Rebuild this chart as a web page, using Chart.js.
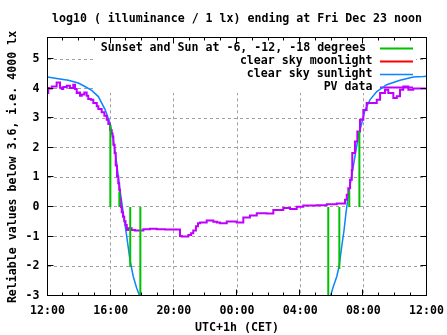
<!DOCTYPE html>
<html>
<head>
<meta charset="utf-8">
<script src="https://cdn.jsdelivr.net/npm/chart.js@4.4.0/dist/chart.umd.min.js"></script>
<style>
  html, body { margin: 0; padding: 0; background: #fff; }
</style>
</head>
<body>
<canvas id="luxChart" width="447" height="335"></canvas>
<script>
// axis labels
const hourLabels = ["12:00", "16:00", "20:00", "00:00", "04:00", "08:00", "12:00"];
const yTicks = [-3, -2, -1, 0, 1, 2, 3, 4, 5];

// PV data: hours after 12:00, log10(lux)
const pvHours = [0.00, 0.05, 0.10, 0.27, 0.58, 0.79, 0.90, 1.00, 1.22, 1.42, 1.63, 1.74, 1.85, 1.95, 2.06, 2.17, 2.33, 2.48, 2.58, 2.75,
  2.90, 3.12, 3.22, 3.43, 3.60, 3.75, 3.85, 3.96, 4.06, 4.12, 4.17, 4.25, 4.32, 4.40, 4.48, 4.54, 4.59, 4.65, 4.70, 4.78, 4.86, 4.94, 5.02, 5.12, 5.33, 5.54,
  5.75, 6.07, 6.28, 6.49, 6.92, 7.44, 7.88, 8.39, 8.50, 8.92, 9.09, 9.23, 9.40, 9.53, 9.66, 10.08, 10.50, 10.73, 10.92, 11.35,
  11.56, 11.98, 12.40, 12.82, 13.25, 13.88, 14.30, 14.93, 15.36, 15.78, 16.20, 17.05, 17.68, 18.32, 18.84, 18.95, 19.05, 19.16, 19.27, 19.30,
  19.47, 19.62, 19.79, 20.00, 20.21, 20.42, 20.85, 21.06, 21.37, 21.58, 21.90, 22.12, 22.32, 22.53, 22.85, 23.16, 23.59, 24.00];
const pvValues = [3.96, 3.85, 4.02, 4.00, 4.07, 4.21, 4.03, 3.99, 4.05, 4.10, 4.02, 4.13, 3.99, 3.85, 3.87, 3.76, 3.80, 3.87, 3.76, 3.65,
  3.62, 3.51, 3.40, 3.31, 3.20, 3.08, 2.95, 2.80, 2.60, 2.48, 2.38, 2.10, 1.82, 1.40, 1.03, 0.80, 0.58, 0.28, 0.00, -0.18, -0.33, -0.48, -0.61, -0.78, -0.72, -0.78,
  -0.80, -0.80, -0.75, -0.75, -0.74, -0.75, -0.76, -0.76, -0.98, -1.00, -0.95, -0.89, -0.80, -0.65, -0.55, -0.53, -0.46, -0.50, -0.53, -0.55,
  -0.49, -0.49, -0.53, -0.36, -0.29, -0.21, -0.22, -0.10, -0.04, -0.07, 0.01, 0.05, 0.06, 0.09, 0.12, 0.24, 0.41, 0.63, 0.92, 1.25,
  1.82, 2.21, 2.55, 2.95, 3.28, 3.51, 3.51, 3.62, 3.85, 3.96, 3.85, 3.68, 3.74, 3.96, 4.07, 3.96, 4.00, 4.00];

// clear sky sunlight model (gap during the night)
const sunHours = [0.00, 0.68, 1.32, 1.95, 2.37, 2.80, 3.22, 3.64, 3.96, 4.17, 4.38, 4.59, 4.80, 5.02, 5.22, 5.43, 5.65, 5.79, 5.90,
  12.00,
  17.86, 17.94, 18.10, 18.32, 18.48, 18.63, 18.78, 18.90, 19.01, 19.11, 19.22, 19.47, 19.68, 19.90, 20.11, 20.42, 20.85, 21.48, 22.32, 23.17, 23.80, 24.00];
const sunValues = [4.39, 4.33, 4.28, 4.19, 4.07, 3.94, 3.73, 3.30, 2.83, 2.27, 1.48, 0.58, -0.21, -1.00, -1.79, -2.35, -2.75, -2.94, -3.20,
  null,
  -3.20, -2.97, -2.69, -2.35, -1.96, -1.34, -0.78, -0.21, 0.24, 0.58, 0.92, 1.70, 2.38, 2.83, 3.28, 3.62, 3.90, 4.13, 4.28, 4.39, 4.41, 4.42];

// sunset / sunrise and sun at -6, -12, -18 degrees
const sunEventHours = [3.98, 4.55, 5.24, 5.88, 17.78, 18.48, 19.11, 19.75];
const sunEventLevels = [2.78, 0.52, -2.03, -3.2, -3.2, -2.1, 0.55, 2.55];

// moon is below the plotted range
const moonHours = [];
const moonValues = [];

const titleText = "log10 ( illuminance / 1 lx) ending at Fri Dec 23 noon";
const FONT = "bold 11.6px 'DejaVu Sans Mono', monospace";
const fontOpt = { family: "'DejaVu Sans Mono', monospace", size: 11.6, weight: "bold" };

const zip = (xs, ys) => xs.map((x, i) => ({ x: x, y: ys[i] }));
const eventPoints = sunEventHours.flatMap((h, i) => [
  { x: h, y: 0 }, { x: h, y: sunEventLevels[i] }, { x: h, y: null }
]);

// title and key box (key sits over the grid, under the curves)
const keyPlugin = {
  id: "gnuKey",
  beforeDatasetsDraw(chart) {
    const ctx = chart.ctx;
    const a = chart.chartArea;
    ctx.save();
    ctx.font = FONT;
    ctx.fillStyle = "#000";
    ctx.textAlign = "center";
    ctx.textBaseline = "middle";
    ctx.fillText(titleText, (a.left + a.right) / 2, 19);

    ctx.fillStyle = "#fff";
    ctx.fillRect(94, 39, 322, 54);
    ctx.textAlign = "right";
    const rows = [48, 61, 74, 87];
    chart.data.datasets.forEach((ds, i) => {
      ctx.fillStyle = "#000";
      ctx.fillText(ds.label, i === 0 ? 366 : 372.5, rows[i]);
      ctx.strokeStyle = ds.borderColor;
      ctx.lineWidth = ds.borderWidth;
      ctx.beginPath();
      ctx.moveTo(380, rows[i] + 0.5);
      ctx.lineTo(413, rows[i] + 0.5);
      ctx.stroke();
    });
    ctx.restore();
  }
};

// border and inward tics like gnuplot
const framePlugin = {
  id: "gnuFrame",
  afterDatasetsDraw(chart) {
    const { ctx, chartArea: a, scales } = chart;
    const L = Math.round(a.left) - 0.5, R = Math.round(a.right) - 0.5;
    const T = Math.round(a.top) - 0.5, B = Math.round(a.bottom) - 0.5;
    ctx.save();
    ctx.strokeStyle = "#000";
    ctx.lineWidth = 1;
    ctx.beginPath();
    for (let h = 0; h <= 24; h++) {
      const x = Math.round(scales.x.getPixelForValue(h)) - 0.5;
      const len = h % 4 === 0 ? 6 : 3;
      ctx.moveTo(x, B); ctx.lineTo(x, B - len);
      ctx.moveTo(x, T); ctx.lineTo(x, T + len);
    }
    yTicks.forEach(v => {
      const y = Math.round(scales.y.getPixelForValue(v)) - 0.5;
      ctx.moveTo(L, y); ctx.lineTo(L + 6, y);
      ctx.moveTo(R, y); ctx.lineTo(R - 6, y);
    });
    ctx.stroke();
    ctx.strokeRect(L, T, R - L, B - T);
    ctx.restore();
  }
};

new Chart(document.getElementById("luxChart"), {
  type: "line",
  data: {
    datasets: [
      {
        label: "Sunset and Sun at -6, -12, -18 degrees",
        data: eventPoints,
        borderColor: "#00c000",
        borderWidth: 2,
        order: 0,
      },
      {
        label: "clear sky moonlight",
        data: zip(moonHours, moonValues),
        borderColor: "#ff0000",
        borderWidth: 2,
        order: 3,
      },
      {
        label: "clear sky sunlight",
        data: zip(sunHours, sunValues),
        borderColor: "#0a84ff",
        borderWidth: 1.5,
        order: 2,
      },
      {
        label: "PV data",
        data: zip(pvHours, pvValues),
        borderColor: "#c000ff",
        borderWidth: 2,
        stepped: "after",
        order: 1,
      },
    ],
  },
  options: {
    responsive: false,
    animation: false,
    spanGaps: false,
    elements: { point: { radius: 0 }, line: { tension: 0 } },
    layout: { padding: { left: 0, right: 20.5, top: 38.3, bottom: 0 } },
    plugins: {
      legend: { display: false },
      tooltip: { enabled: false },
      title: { display: false },
    },
    scales: {
      x: {
        type: "linear",
        min: 0,
        max: 24,
        afterBuildTicks: (s) => { s.ticks = hourLabels.map((l, i) => ({ value: i * 4 })); },
        afterFit: (s) => { s.height = 39.3; s.paddingLeft = 0; s.paddingRight = 0; },
        grid: { color: "#a0a0a0", lineWidth: 1, drawTicks: false },
        border: { display: false, dash: [3, 3] },
        ticks: {
          color: "#000",
          font: fontOpt,
          padding: 8,
          maxRotation: 0,
          autoSkip: false,
          callback: (v, i) => hourLabels[i],
        },
        title: {
          display: true,
          text: "UTC+1h (CET)",
          color: "#000",
          font: fontOpt,
          padding: { top: 0, bottom: 0 },
        },
      },
      y: {
        min: -3,
        max: 5.7,
        afterBuildTicks: (s) => { s.ticks = yTicks.map((v) => ({ value: v })); },
        afterFit: (s) => { s.width = 47.5; s.paddingTop = 0; s.paddingBottom = 0; },
        grid: { color: "#a0a0a0", lineWidth: 1, drawTicks: false },
        border: { display: false, dash: [3, 3] },
        ticks: { color: "#000", font: fontOpt, padding: 8 },
        title: {
          display: true,
          text: "Reliable values below 3.6, i.e. 4000 lx",
          color: "#000",
          font: fontOpt,
          padding: { top: 6, bottom: 0 },
        },
      },
    },
  },
  plugins: [keyPlugin, framePlugin],
});
</script>
</body>
</html>
